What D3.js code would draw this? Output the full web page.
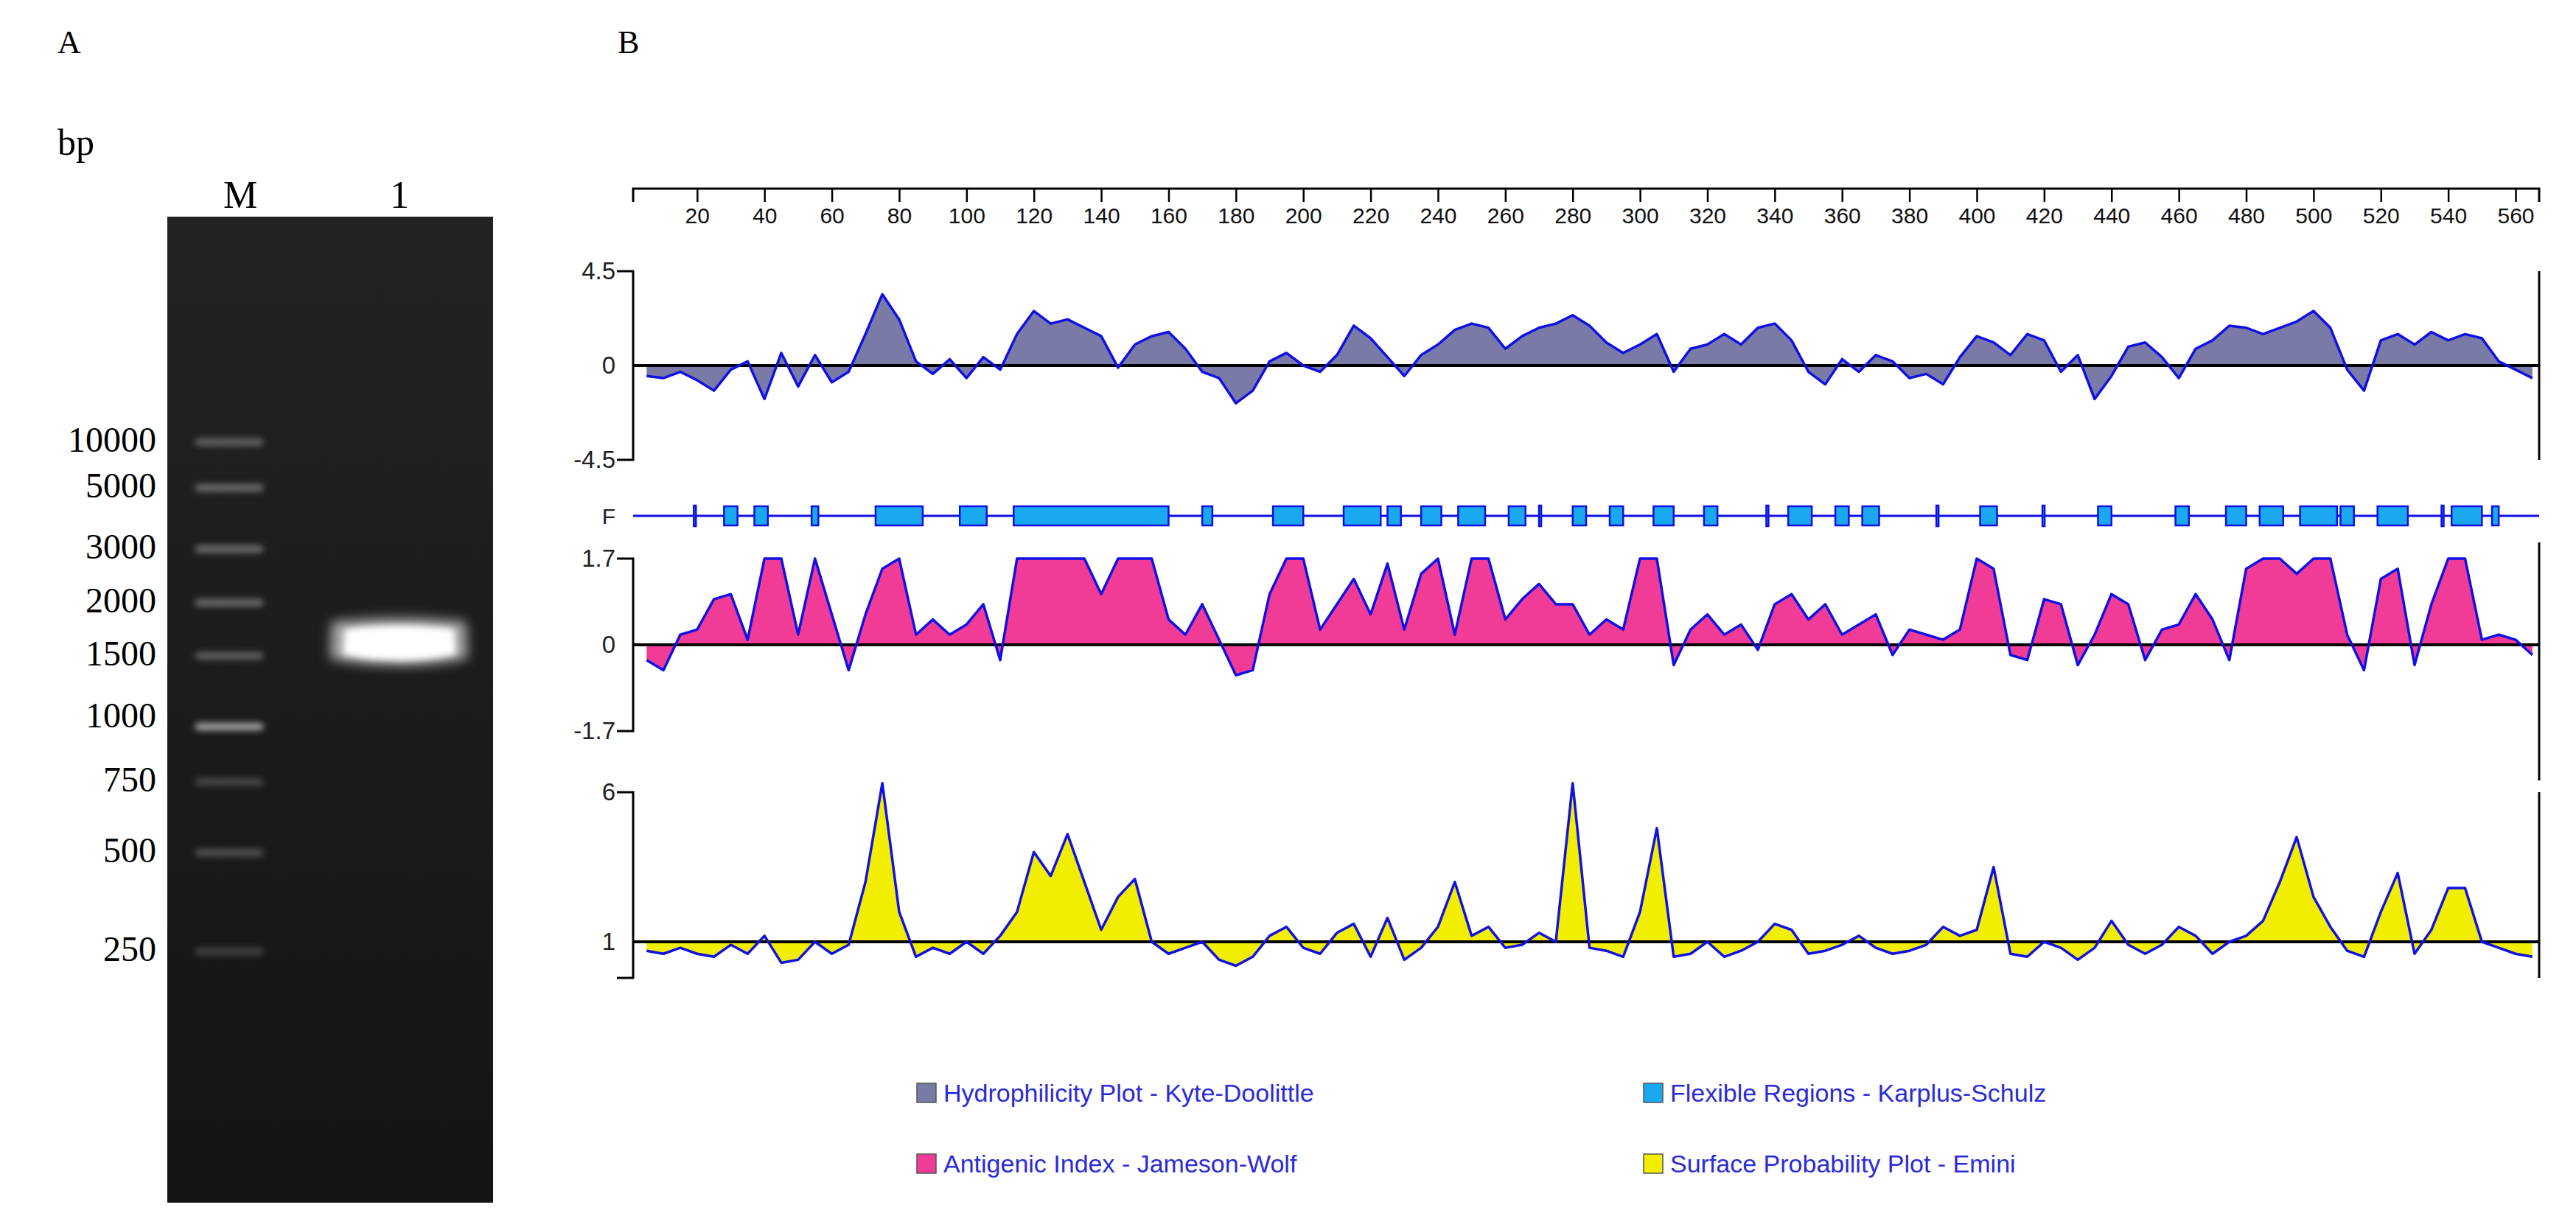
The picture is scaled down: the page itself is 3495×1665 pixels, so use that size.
<!DOCTYPE html>
<html><head><meta charset="utf-8">
<script src="https://cdn.jsdelivr.net/npm/d3@7/dist/d3.min.js"></script>
<style>body{margin:0;background:#fff}</style></head>
<body><svg id="c" width="3495" height="1665"></svg>
<script>
// ---------- data ----------
const residues = d3.range(5, 566, 5);
const hydrophilicity = [-0.5,-0.6,-0.3,-0.7,-1.2,-0.2,0.2,-1.6,0.6,-1.0,0.5,-0.8,-0.3,1.5,3.4,2.2,0.2,-0.4,0.3,-0.6,0.4,-0.2,1.5,2.6,2.0,2.2,1.8,1.4,-0.1,1.0,1.4,1.6,0.8,-0.3,-0.6,-1.8,-1.2,0.2,0.6,0.0,-0.3,0.5,1.9,1.3,0.4,-0.5,0.5,1.0,1.7,2.0,1.8,0.8,1.4,1.8,2.0,2.4,1.9,1.1,0.6,1.0,1.5,-0.3,0.8,1.0,1.5,1.0,1.8,2.0,1.2,-0.3,-0.9,0.3,-0.3,0.5,0.2,-0.6,-0.4,-0.9,0.4,1.4,1.1,0.5,1.5,1.2,-0.3,0.5,-1.6,-0.5,0.9,1.1,0.4,-0.6,0.8,1.2,1.9,1.8,1.5,1.8,2.1,2.6,1.8,-0.2,-1.2,1.2,1.5,1.0,1.6,1.2,1.5,1.3,0.2,-0.2,-0.6];
const antigenic = [-0.3,-0.5,0.2,0.3,0.9,1.0,0.1,1.7,1.7,0.2,1.7,0.6,-0.5,0.6,1.5,1.7,0.2,0.5,0.2,0.4,0.8,-0.3,1.7,1.7,1.7,1.7,1.7,1.0,1.7,1.7,1.7,0.5,0.2,0.8,0.1,-0.6,-0.5,1.0,1.7,1.7,0.3,0.8,1.3,0.6,1.6,0.3,1.4,1.7,0.2,1.7,1.7,0.5,0.9,1.2,0.8,0.8,0.2,0.5,0.3,1.7,1.7,-0.4,0.3,0.6,0.2,0.4,-0.1,0.8,1.0,0.5,0.8,0.2,0.4,0.6,-0.2,0.3,0.2,0.1,0.3,1.7,1.5,-0.2,-0.3,0.9,0.8,-0.4,0.2,1.0,0.8,-0.3,0.3,0.4,1.0,0.5,-0.3,1.5,1.7,1.7,1.4,1.7,1.7,0.2,-0.5,1.3,1.5,-0.4,0.8,1.7,1.7,0.1,0.2,0.1,-0.2];
const surface = [0.7,0.6,0.8,0.6,0.5,0.9,0.6,1.2,0.3,0.4,1.0,0.6,0.9,3.0,6.3,2.0,0.5,0.8,0.6,1.0,0.6,1.2,2.0,4.0,3.2,4.6,3.0,1.4,2.5,3.1,1.0,0.6,0.8,1.0,0.4,0.2,0.5,1.2,1.5,0.8,0.6,1.3,1.6,0.5,1.8,0.4,0.8,1.5,3.0,1.2,1.5,0.8,0.9,1.3,1.0,6.3,0.8,0.7,0.5,2.0,4.8,0.5,0.6,1.0,0.5,0.7,1.0,1.6,1.4,0.6,0.7,0.9,1.2,0.8,0.6,0.7,0.9,1.5,1.2,1.4,3.5,0.6,0.5,1.0,0.8,0.4,0.8,1.7,0.9,0.6,0.9,1.5,1.2,0.6,1.0,1.2,1.7,3.0,4.5,2.5,1.5,0.7,0.5,2.0,3.3,0.6,1.4,2.8,2.8,1.0,0.8,0.6,0.5];
const flexStart = [19,28,37,54,73,98,114,170,191,212,225,235,246,261,270,280,291,304,319,337.5,344,358,366,388,401,419.5,436,459,474,484,496,508,519,538,541,553];
const flexEnd   = [19.5,32,41,56,87,106,160,173,200,223,229,241,254,266,270.5,284,295,310,323,338,351,362,371,388.5,406,420,440,463,480,491,507,512,528,538.5,550,555];
const axisTicks = d3.range(20, 561, 20);
const ladderSizes = ["10000","5000","3000","2000","1500","1000","750","500","250"];
const ladderBright = [0.3,0.35,0.35,0.35,0.3,0.6,0.2,0.25,0.18];
const laneLabels = ["M","1"];
const legendLabels = ["Hydrophilicity Plot - Kyte-Doolittle","Flexible Regions - Karplus-Schulz","Antigenic Index - Jameson-Wolf","Surface Probability Plot - Emini"];
const legendColors = ["#7a7aa6","#1aa8f0","#f03c96","#f2ee00"];

// ---------- drawing ----------
const svg = d3.select("#c");
svg.append("rect").attr("width",3495).attr("height",1665).attr("fill","#fff");
const serif = "'Liberation Serif', 'DejaVu Serif', serif";
const sans = "'Liberation Sans', Arial, sans-serif";
const blue = "#1010e6";

svg.append("text").attr("x",78).attr("y",72).text("A").attr("font-family",serif).attr("font-size",44);
svg.append("text").attr("x",838).attr("y",72).text("B").attr("font-family",serif).attr("font-size",44);

// ---------- Panel A: gel ----------
const defs = svg.append("defs");
const f = defs.append("filter").attr("id","blur").attr("x","-50%").attr("y","-200%").attr("width","200%").attr("height","500%");
f.append("feGaussianBlur").attr("stdDeviation",4);
const f2 = defs.append("filter").attr("id","blur2").attr("x","-50%").attr("y","-100%").attr("width","200%").attr("height","300%");
f2.append("feGaussianBlur").attr("stdDeviation",8);
const gg = defs.append("linearGradient").attr("id","gel").attr("x1",0).attr("y1",0).attr("x2",0).attr("y2",1);
gg.append("stop").attr("offset","0").attr("stop-color","#232323");
gg.append("stop").attr("offset","1").attr("stop-color","#141414");
svg.append("rect").attr("x",227).attr("y",294).attr("width",442).attr("height",1338).attr("fill","url(#gel)");

const ladderY = d3.scaleOrdinal().domain(ladderSizes).range([598,660,743,816,888,972,1059,1155,1289]);
svg.append("text").attr("x",78).attr("y",210).text("bp").attr("font-family",serif).attr("font-size",50);
const laneX = d3.scaleOrdinal().domain(laneLabels).range([326,542]);
svg.selectAll(".lane").data(laneLabels).join("text")
  .attr("x",d=>laneX(d)).attr("y",282).attr("text-anchor","middle").text(d=>d)
  .attr("font-family",serif).attr("font-size",52);
svg.selectAll(".lad").data(ladderSizes).join("text")
  .attr("x",212).attr("y",d=>ladderY(d)+15).attr("text-anchor","end").text(d=>d)
  .attr("font-family",serif).attr("font-size",48);
svg.selectAll(".band").data(ladderSizes).join("rect")
  .attr("x",265).attr("width",92).attr("y",(d,i)=>ladderY(d)+(i===5?14:2)-5).attr("height",10).attr("rx",4)
  .attr("fill","#fff").attr("opacity",(d,i)=>ladderBright[i]).attr("filter","url(#blur)");
// sample band in lane 1 (~1500 bp), slightly crescent shaped
const by = ladderY("1500");
svg.append("path").attr("d",`M450,${by-44} Q541,${by-54} 632,${by-44} L634,${by+6} Q541,${by+24} 448,${by+6} Z`)
  .attr("fill","#ddd").attr("opacity",0.75).attr("filter","url(#blur2)");
svg.append("path").attr("d",`M468,${by-34} Q541,${by-44} 616,${by-34} L618,${by} Q541,${by+16} 466,${by} Z`)
  .attr("fill","#fff").attr("filter","url(#blur)");

// ---------- Panel B ----------
const x = d3.scaleLinear().domain([1,567]).range([859,3445]);
const xAxis = d3.axisBottom(x).tickValues(axisTicks).tickSize(18).tickPadding(8);
const ga = svg.append("g").attr("transform","translate(0,256)").call(xAxis);
ga.select(".domain").attr("d",`M${x(1)},18V0H${x(567)}V18`).attr("stroke","#000").attr("stroke-width",3);
ga.selectAll(".tick line").attr("stroke-width",2.5);
ga.selectAll("text").attr("font-family",sans).attr("font-size",30).attr("fill","#111");

function panel(values, yDom, yRange, base, fill, labels, tickVals, rightTop, rightBot){
  const y = d3.scaleLinear().domain(yDom).range(yRange);
  const pts = residues.map((r,i)=>[r,values[i]]);
  const area = d3.area().x(d=>x(d[0])).y0(y(base)).y1(d=>y(d[1]));
  const line = d3.line().x(d=>x(d[0])).y(d=>y(d[1]));
  const g = svg.append("g");
  g.append("path").datum(pts).attr("d",area).attr("fill",fill);
  g.append("line").attr("x1",x(1)).attr("x2",x(567)).attr("y1",y(base)).attr("y2",y(base)).attr("stroke","#000").attr("stroke-width",4);
  g.append("path").datum(pts).attr("d",line).attr("fill","none").attr("stroke",blue).attr("stroke-width",3.5).attr("stroke-linejoin","round");
  const ax = d3.axisLeft(y).tickValues(tickVals).tickSize(0).tickPadding(24).tickFormat((d,i)=>labels[i]);
  const gy = g.append("g").attr("transform",`translate(${x(1)},0)`).call(ax);
  gy.select(".domain").remove();
  gy.selectAll("text").attr("font-family",sans).attr("font-size",33).attr("fill","#222");
  g.append("path").attr("d",`M${x(1)-22},${y(yDom[1])}H${x(1)}V${y(yDom[0])}H${x(1)-22}`).attr("fill","none").attr("stroke","#000").attr("stroke-width",3);
  g.append("line").attr("x1",x(567)).attr("x2",x(567)).attr("y1",rightTop).attr("y2",rightBot).attr("stroke","#000").attr("stroke-width",3);
  return y;
}
panel(hydrophilicity,[-4.5,4.5],[624,368],0,"#7a7aa6",["4.5","0","-4.5"],[4.5,0,-4.5],368,624);
panel(antigenic,[-1.7,1.7],[992,758],0,"#f03c96",["1.7","0","-1.7"],[1.7,0,-1.7],736,1059);
const spY = d3.scaleLinear().domain([1,6]).range([1278,1075]);
panel(surface,[spY.invert(1327),6],[1327,1075],1,"#f2ee00",["6","1"],[6,1],1075,1327);

// Flexible regions
svg.append("text").attr("x",x(1)-24).attr("y",711).attr("text-anchor","end").text("F").attr("font-family",sans).attr("font-size",30).attr("fill","#222");
svg.append("line").attr("x1",x(1)).attr("x2",x(567)).attr("y1",700).attr("y2",700).attr("stroke",blue).attr("stroke-width",3);
svg.selectAll(".flex").data(flexStart).join("rect")
  .attr("x",(d,i)=>x(d)).attr("width",(d,i)=>Math.max(3,x(flexEnd[i])-x(d)))
  .attr("y",(d,i)=>flexEnd[i]-d<1?686:687).attr("height",(d,i)=>flexEnd[i]-d<1?28:26)
  .attr("fill","#1aa8f0").attr("stroke",blue).attr("stroke-width",2.5);

// Legend
const lg = svg.selectAll(".lg").data(legendLabels).join("g")
  .attr("transform",(d,i)=>`translate(${i%2?2230:1244},${i<2?1483:1579})`);
lg.append("rect").attr("x",0).attr("y",-13).attr("width",26).attr("height",26)
  .attr("fill",(d,i)=>legendColors[i]).attr("stroke","#555").attr("stroke-width",1.5);
lg.append("text").attr("x",36).attr("y",12).text(d=>d).attr("font-family",sans).attr("font-size",34).attr("fill","#2b2bd8");
</script></body></html>
